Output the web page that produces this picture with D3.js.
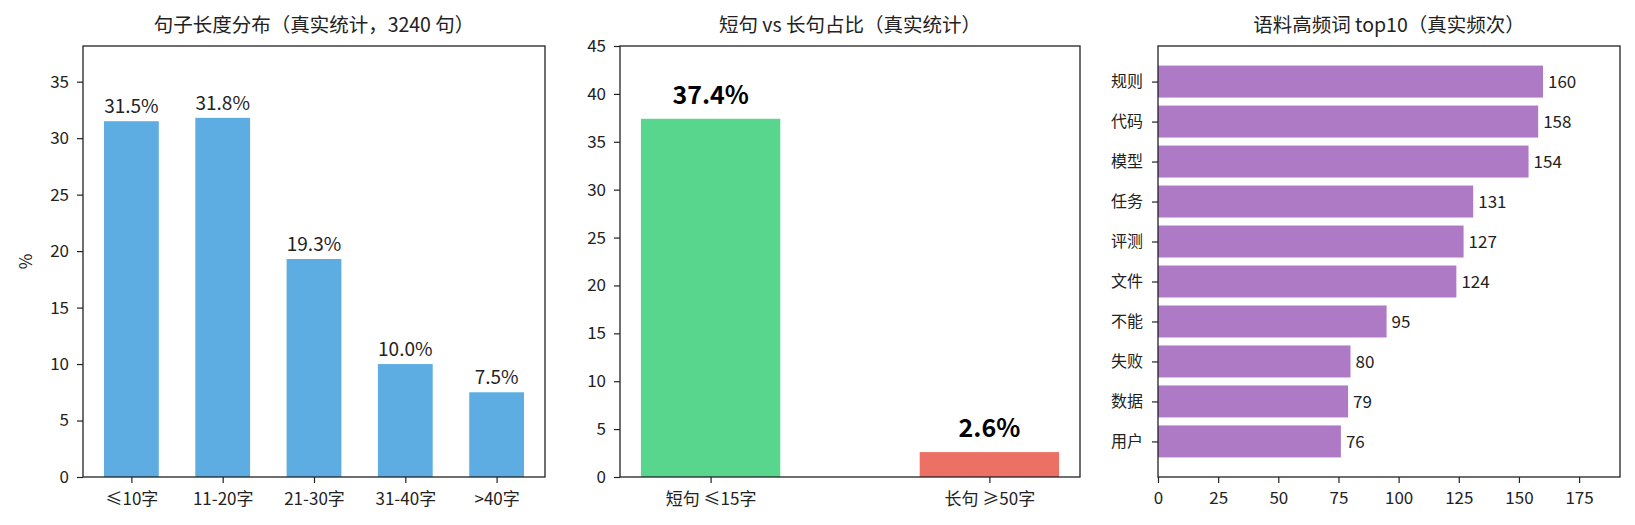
<!DOCTYPE html>
<html>
<head>
<meta charset="utf-8">
<script src="https://cdn.jsdelivr.net/npm/d3@7"></script>
<style>
  body { margin: 0; background: #fff; }
  svg text { font-family: "Noto Sans CJK SC", "Noto Sans", sans-serif; fill: #222; }
</style>
</head>
<body>
<svg id="chart" width="1635" height="525"></svg>
<script>
// sentence length distribution
const lenCats = ["≤10字", "11-20字", "21-30字", "31-40字", ">40字"];
const lenPct = [31.5, 31.8, 19.3, 10.0, 7.5];
const lenTicks = [0, 5, 10, 15, 20, 25, 30, 35];

// short vs long share
const ratioCats = ["短句 ≤15字", "长句 ≥50字"];
const ratioPct = [37.4, 2.6];
const ratioTicks = [0, 5, 10, 15, 20, 25, 30, 35, 40, 45];

// top10 words
const words = ["规则", "代码", "模型", "任务", "评测", "文件", "不能", "失败", "数据", "用户"];
const wordCounts = [160, 158, 154, 131, 127, 124, 95, 80, 79, 76];
const wordTicks = [0, 25, 50, 75, 100, 125, 150, 175];

const titles = [
  "句子长度分布（真实统计，3240 句）",
  "短句 vs 长句占比（真实统计）",
  "语料高频词 top10（真实频次）"
];

const svg = d3.select("#chart");
const plotTop = 46, plotBottom = 477;
const panels = [
  { left: 83, right: 545 },
  { left: 620, right: 1080 },
  { left: 1158, right: 1620 }
];

// matplotlib-ish default bar margins
const catDomain = (n, w) => {
  const lo = -w / 2, hi = n - 1 + w / 2, m = (hi - lo) * 0.05;
  return [lo - m, hi + m];
};

const styleAxis = (g, fs) => {
  g.selectAll(".domain").remove();
  g.selectAll(".tick line").attr("stroke", "#222").attr("stroke-width", 1.2);
  g.selectAll(".tick text").style("font-size", fs + "px").attr("fill", "#222");
};

const frame = (p) => {
  svg.append("rect")
    .attr("x", p.left).attr("y", plotTop)
    .attr("width", p.right - p.left).attr("height", plotBottom - plotTop)
    .attr("fill", "none").attr("stroke", "#222").attr("stroke-width", 1.3);
};

const title = (p, t) => {
  svg.append("text")
    .attr("x", (p.left + p.right) / 2).attr("y", 32)
    .attr("text-anchor", "middle")
    .style("font-size", "19.5px")
    .text(t);
};

// vertical bar panel
const vbars = (p, cats, vals, ticks, ymax, barW, colors, labelFs, labelBold, labelGap) => {
  const x = d3.scaleLinear().domain(catDomain(cats.length, barW)).range([p.left, p.right]);
  const y = d3.scaleLinear().domain([0, ymax]).range([plotBottom, plotTop]);
  const unit = x(1) - x(0);

  svg.append("g").selectAll("rect")
    .data(vals)
    .join("rect")
      .attr("x", (d, i) => x(i - barW / 2))
      .attr("y", d => y(d))
      .attr("width", unit * barW)
      .attr("height", d => y(0) - y(d))
      .attr("fill", (d, i) => colors[i % colors.length]);

  svg.append("g").selectAll("text")
    .data(vals)
    .join("text")
      .attr("x", (d, i) => x(i))
      .attr("y", d => y(d) - labelGap)
      .attr("text-anchor", "middle")
      .style("font-size", labelFs + "px")
      .style("font-weight", labelBold ? "bold" : "normal")
      .style("fill", labelBold ? "#000" : "#222")
      .text(d => d3.format(".1f")(d) + "%");

  svg.append("g")
    .attr("transform", `translate(0,${plotBottom})`)
    .call(d3.axisBottom(x).tickValues(d3.range(cats.length)).tickFormat(i => cats[i]).tickSize(6).tickPadding(10))
    .call(g => styleAxis(g, 17));

  svg.append("g")
    .attr("transform", `translate(${p.left},0)`)
    .call(d3.axisLeft(y).tickValues(ticks).tickSize(6).tickPadding(8))
    .call(g => styleAxis(g, 17));

  frame(p);
};

vbars(panels[0], lenCats, lenPct, lenTicks, d3.max(lenPct) * 1.2, 0.6, ["#5DADE2"], 19, false, 8);
vbars(panels[1], ratioCats, ratioPct, ratioTicks, 45, 0.5, ["#58D68D", "#EC7063"], 25, true, 15);

svg.append("text")
  .attr("transform", `translate(32,${(plotTop + plotBottom) / 2}) rotate(-90)`)
  .attr("text-anchor", "middle")
  .style("font-size", "17px")
  .text("%");

// horizontal bar panel
{
  const p = panels[2];
  const barH = 0.8;
  const x = d3.scaleLinear().domain([0, d3.max(wordCounts) * 1.2]).range([p.left, p.right]);
  const y = d3.scaleLinear().domain(catDomain(words.length, barH)).range([plotTop, plotBottom]);
  const unit = y(1) - y(0);

  svg.append("g").selectAll("rect")
    .data(wordCounts)
    .join("rect")
      .attr("x", x(0))
      .attr("y", (d, i) => y(i - barH / 2))
      .attr("width", d => x(d) - x(0))
      .attr("height", unit * barH)
      .attr("fill", "#AF7AC5");

  svg.append("g").selectAll("text")
    .data(wordCounts)
    .join("text")
      .attr("x", d => x(d) + 5)
      .attr("y", (d, i) => y(i))
      .attr("dy", "0.36em")
      .style("font-size", "17px")
      .text(d => d);

  svg.append("g")
    .attr("transform", `translate(0,${plotBottom})`)
    .call(d3.axisBottom(x).tickValues(wordTicks).tickSize(6).tickPadding(9))
    .call(g => styleAxis(g, 17));

  svg.append("g")
    .attr("transform", `translate(${p.left},0)`)
    .call(d3.axisLeft(y).tickValues(d3.range(words.length)).tickFormat(i => words[i]).tickSize(6).tickPadding(9))
    .call(g => styleAxis(g, 16));

  frame(p);
}

panels.forEach((p, i) => title(p, titles[i]));
</script>
</body>
</html>
